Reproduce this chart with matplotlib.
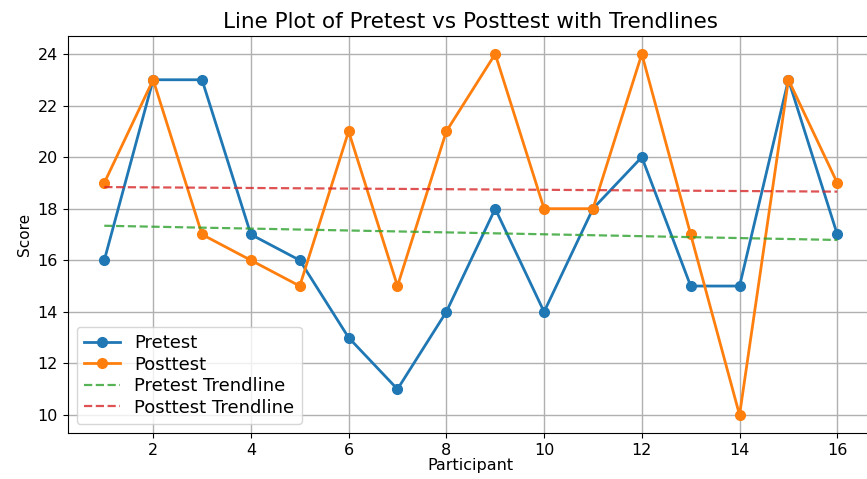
import numpy as np
import matplotlib
matplotlib.use("Agg")
import matplotlib.pyplot as plt

participants = list(range(1, 17))
pretest = [16, 23, 23, 17, 16, 13, 11, 14, 18, 14, 18, 20, 15, 15, 23, 17]
posttest = [19, 23, 17, 16, 15, 21, 15, 21, 24, 18, 18, 24, 17, 10, 23, 19]

plt.rcParams['font.size'] = 12

x = np.array(participants)
pre_fit = np.poly1d(np.polyfit(x, pretest, 1))
post_fit = np.poly1d(np.polyfit(x, posttest, 1))

fig, ax = plt.subplots(figsize=(8.67, 4.79), dpi=100)
ax.plot(x, pretest, marker='o', label='Pretest', linewidth=2, markersize=7)
ax.plot(x, posttest, marker='o', label='Posttest', linewidth=2, markersize=7)
ax.plot(x, pre_fit(x), '--', color='#2ca02c', alpha=0.8, linewidth=1.6,
        label='Pretest Trendline')
ax.plot(x, post_fit(x), '--', color='#d62728', alpha=0.8, linewidth=1.6,
        label='Posttest Trendline')

ax.set_title('Line Plot of Pretest vs Posttest with Trendlines', fontsize=15.5)
ax.set_xlabel('Participant', fontsize=11.5, labelpad=0)
ax.set_ylabel('Score', fontsize=11)
ax.set_xticks(range(2, 17, 2))
ax.set_yticks(range(10, 25, 2))
ax.tick_params(labelsize=11.5)
ax.grid(True, linewidth=1)
ax.legend(loc='lower left', fontsize=13, labelspacing=0.2)

fig.subplots_adjust(left=0.078, right=1.008, top=0.925, bottom=0.096)
fig.savefig('out.png')
